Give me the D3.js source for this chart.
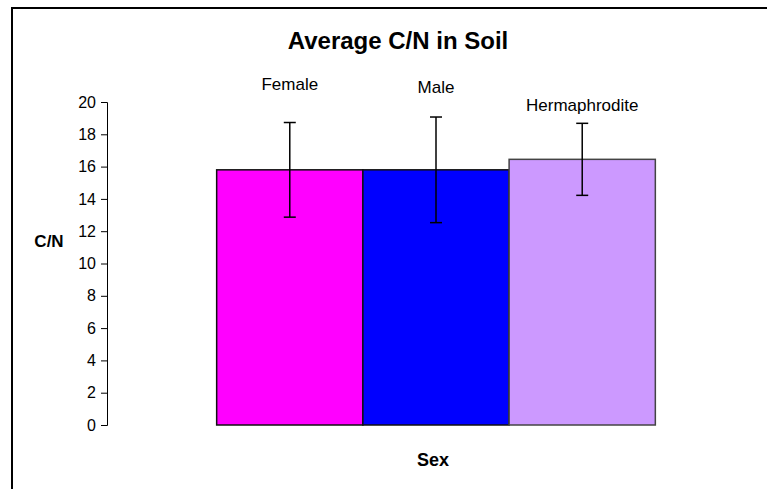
<!DOCTYPE html>
<html>
<head>
<meta charset="utf-8">
<script src="https://cdn.jsdelivr.net/npm/d3@7/dist/d3.min.js"></script>
<style>
  html, body { margin: 0; padding: 0; background: #fff; }
  svg { display: block; font-family: "Liberation Sans", Arial, Helvetica, sans-serif; }
</style>
</head>
<body>
<svg id="chart" width="767" height="489"></svg>
<script>
// ---- data ----
const categories = ["Female", "Male", "Hermaphrodite"];
const means = [15.8, 15.8, 16.45];
const errors = [2.93, 3.27, 2.23];
const yTicks = [0, 2, 4, 6, 8, 10, 12, 14, 16, 18, 20];
const colors = ["#FF00FF", "#0000FF", "#CC99FF"];

// ---- layout ----
const svg = d3.select("#chart");
const W = 767, H = 489;
const plot = { left: 107, right: 765, top: 102, bottom: 425 };
// label lift above each error bar top (px)
const labelLift = [33, 24, 12];

// outer frame (top and left edges visible)
svg.append("path")
  .attr("d", `M12,${H + 5} L12,8 L${W + 5},8`)
  .attr("fill", "none")
  .attr("stroke", "#000")
  .attr("stroke-width", 2);

const x = d3.scaleBand()
  .domain(categories)
  .range([plot.left, plot.right])
  .paddingInner(0)
  .paddingOuter(0.75);

const y = d3.scaleLinear()
  .domain([0, 20])
  .range([plot.bottom, plot.top]);

// y axis
const yAxis = d3.axisLeft(y)
  .tickValues(yTicks)
  .tickSize(6)
  .tickPadding(5)
  .tickFormat(d3.format("d"));

const gy = svg.append("g")
  .attr("transform", `translate(${plot.left},0)`)
  .call(yAxis);
gy.attr("font-size", null).attr("font-family", null);
gy.select(".domain").attr("stroke", "#000").attr("stroke-width", 1);
gy.selectAll(".tick line").attr("stroke", "#000");
gy.selectAll(".tick text")
  .attr("fill", "#000")
  .style("font-size", "16px")
  .style("font-family", "'Liberation Sans', Arial, sans-serif");

// bars
svg.append("g").selectAll("rect")
  .data(categories)
  .join("rect")
  .attr("x", d => x(d))
  .attr("y", (d, i) => y(means[i]))
  .attr("width", x.bandwidth())
  .attr("height", (d, i) => y(0) - y(means[i]))
  .attr("fill", (d, i) => colors[i])
  .attr("stroke", (d, i) => i === 2 ? "#444" : "#111")
  .attr("stroke-width", 1.5);

// error bars
const eb = svg.append("g").attr("stroke", "#000").attr("stroke-width", 1.5);
const cap = 6;
categories.forEach((c, i) => {
  const cx = x(c) + x.bandwidth() / 2;
  const y1 = y(means[i] + errors[i]);
  const y2 = y(means[i] - errors[i]);
  eb.append("line").attr("x1", cx).attr("x2", cx).attr("y1", y1).attr("y2", y2);
  eb.append("line").attr("x1", cx - cap).attr("x2", cx + cap).attr("y1", y1).attr("y2", y1);
  eb.append("line").attr("x1", cx - cap).attr("x2", cx + cap).attr("y1", y2).attr("y2", y2);
});

// category labels above error bars
svg.append("g").selectAll("text")
  .data(categories)
  .join("text")
  .attr("x", d => x(d) + x.bandwidth() / 2)
  .attr("y", (d, i) => y(means[i] + errors[i]) - labelLift[i])
  .attr("text-anchor", "middle")
  .style("font-size", "17px")
  .attr("fill", "#000")
  .text(d => d);

// title
svg.append("text")
  .attr("x", 398)
  .attr("y", 49)
  .attr("text-anchor", "middle")
  .style("font-size", "24px")
  .style("font-weight", "bold")
  .text("Average C/N in Soil");

// y axis title
svg.append("text")
  .attr("x", 49)
  .attr("y", 247)
  .attr("text-anchor", "middle")
  .style("font-size", "17px")
  .style("font-weight", "bold")
  .text("C/N");

// x axis title
svg.append("text")
  .attr("x", (plot.left + plot.right) / 2 - 3)
  .attr("y", 466)
  .attr("text-anchor", "middle")
  .style("font-size", "18px")
  .style("font-weight", "bold")
  .text("Sex");
</script>
</body>
</html>
